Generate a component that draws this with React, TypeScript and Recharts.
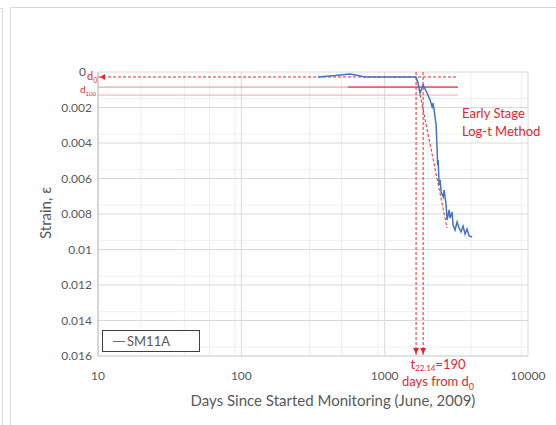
import React from 'react';
import {
  LineChart,
  Line,
  XAxis,
  YAxis,
  CartesianGrid,
  ReferenceLine,
} from 'recharts';

// SM11A readings (days since monitoring started, strain)
const days = [
  343, 451, 574, 652, 729, 1091, 1656, 1710, 1767, 1854, 1976, 2075, 2143, 2178,
  2213, 2286, 2323, 2340, 2360, 2398, 2437, 2477, 2559, 2600, 2682, 2725, 2814,
  2860, 2953, 3000, 3098, 3200, 3305, 3412, 3524, 3639, 3758, 3882, 4074,
];
const strain = [
  0.00028, 0.0002, 0.00011, 0.0002, 0.00028, 0.00028, 0.00028, 0.00062, 0.00118,
  0.00073, 0.00118, 0.00158, 0.00197, 0.00175, 0.00214, 0.00299, 0.0044, 0.00524,
  0.00496, 0.00637, 0.00608, 0.00676, 0.00704, 0.00665, 0.00749, 0.00834, 0.00777,
  0.00823, 0.00789, 0.00862, 0.0089, 0.00845, 0.00879, 0.00901, 0.00868, 0.00913,
  0.00885, 0.00924, 0.0093,
];

const xTicks = [10, 100, 1000, 10000];
const xMinor = [
  20, 30, 40, 50, 60, 70, 80, 90, 200, 300, 400, 500, 600, 700, 800, 900, 2000,
  3000, 4000, 5000, 6000, 7000, 8000, 9000,
];
const yTicks = [0, 0.002, 0.004, 0.006, 0.008, 0.01, 0.012, 0.014, 0.016];
const yMinor = [
  0.0005, 0.001, 0.0015, 0.0025, 0.003, 0.0035, 0.0045, 0.005, 0.0055, 0.0065,
  0.007, 0.0075, 0.0085, 0.009, 0.0095, 0.0105, 0.011, 0.0115, 0.0125, 0.013,
  0.0135, 0.0145, 0.015, 0.0155,
];

// annotation levels
const d0Level = 0.00028;
const d100Level = 0.00085;
const d100Lower = 0.0013;
const refLineEnd = 3250;
const d100DarkStart = 556;
const tStart = 1656;
const tEnd = 1854;
const tangentFrom = { x: 1683, y: 0.00045 };
const tangentTo = { x: 2723, y: 0.00879 };

const data = days.map((d, i) => ({ days: d, strain: strain[i] }));

const RED = '#e0282e';
const GRAY = '#595959';

function ArrowLeftLine(p: any) {
  const { x1, y1, x2, y2 } = p;
  const lx = Math.min(x1, x2) + 2;
  return (
    <g>
      <line x1={x1} y1={y1} x2={x2} y2={y2} stroke={RED} strokeWidth={1} strokeDasharray="3 2" />
      <polygon points={`${lx},${y1} ${lx + 5},${y1 - 3} ${lx + 5},${y1 + 3}`} fill={RED} />
    </g>
  );
}

function ArrowDownLine(p: any) {
  const { x1, y1, x2, y2 } = p;
  const by = Math.max(y1, y2) - 2;
  return (
    <g>
      <line x1={x1} y1={y1} x2={x2} y2={y2} stroke={RED} strokeWidth={1} strokeDasharray="3 2" />
      <polygon points={`${x1},${by} ${x1 - 3},${by - 6} ${x1 + 3},${by - 6}`} fill={RED} />
    </g>
  );
}

// the "0" label sits a little further left to leave room for d0
function YTick(p: any) {
  const { x, y, payload } = p;
  const v = payload.value;
  return (
    <text x={x - (v === 0 ? 6 : 0)} y={y} dy="0.355em" textAnchor="end" fill={GRAY} fontSize={12}>
      {String(v)}
    </text>
  );
}

function Sub({ children, size, drop }: { children: React.ReactNode; size: number; drop?: number }) {
  return (
    <span style={{ fontSize: size, position: 'relative', top: drop ?? size * 0.45, lineHeight: 0 }}>{children}</span>
  );
}

export default function App() {
  return (
    <div
      style={{
        position: 'absolute',
        left: 0,
        top: 0,
        width: 556,
        height: 425,
        background: '#fff',
        fontFamily: 'Lato, sans-serif',
        overflow: 'hidden',
      }}
    >
      {/* outer frames */}
      <div style={{ position: 'absolute', left: 2, top: 8, width: 0, height: 420, borderLeft: '1px solid #d9d9d9' }} />
      <div style={{ position: 'absolute', left: 0, top: 8, width: 3, height: 0, borderTop: '1px solid #d9d9d9' }} />
      <div style={{ position: 'absolute', left: 10, top: 7, width: 560, height: 420, borderLeft: '1px solid #d9d9d9', borderTop: '1px solid #d9d9d9' }} />

      <LineChart
        width={556}
        height={425}
        data={data}
        margin={{ top: 72, right: 28, left: 38, bottom: 39 }}
        style={{ position: 'absolute', left: 0, top: 0 }}
      >
        <CartesianGrid
          horizontalValues={yMinor}
          verticalValues={xMinor}
          stroke="#efefef"
          strokeWidth={1}
        />
        <CartesianGrid
          horizontalValues={yTicks}
          verticalValues={xTicks}
          stroke="#d9d9d9"
          strokeWidth={1}
        />
        <XAxis
          dataKey="days"
          type="number"
          scale="log"
          domain={[10, 10000]}
          ticks={xTicks}
          allowDataOverflow
          height={30}
          tickSize={0}
          tickMargin={15}
          axisLine={{ stroke: '#d9d9d9' }}
          tick={{ fill: GRAY, fontSize: 12 }}
        />
        <YAxis
          type="number"
          domain={[0, 0.016]}
          ticks={yTicks}
          reversed
          width={60}
          tickSize={0}
          tickMargin={6}
          axisLine={{ stroke: '#bfbfbf' }}
          tick={YTick}
        />
        <ReferenceLine
          segment={[{ x: 10, y: d100Lower }, { x: refLineEnd, y: d100Lower }]}
          stroke="#f3a6a8"
          strokeWidth={1}
        />
        <ReferenceLine
          segment={[{ x: 10, y: d100Level }, { x: refLineEnd, y: d100Level }]}
          stroke="#ef8a8d"
          strokeWidth={1}
        />
        <ReferenceLine
          segment={[{ x: d100DarkStart, y: d100Level }, { x: refLineEnd, y: d100Level }]}
          stroke={RED}
          strokeWidth={1}
        />
        <ReferenceLine
          segment={[{ x: 10, y: d0Level }, { x: refLineEnd, y: d0Level }]}
          shape={ArrowLeftLine}
        />
        <ReferenceLine
          segment={[{ x: tStart, y: 0 }, { x: tStart, y: 0.016 }]}
          shape={ArrowDownLine}
        />
        <ReferenceLine
          segment={[{ x: tEnd, y: 0 }, { x: tEnd, y: 0.016 }]}
          shape={ArrowDownLine}
        />
        <ReferenceLine
          segment={[tangentFrom, tangentTo]}
          stroke={RED}
          strokeWidth={1}
          strokeDasharray="3 2"
        />
        <Line
          type="linear"
          dataKey="strain"
          name="SM11A"
          stroke="#4472c4"
          strokeWidth={1.5}
          dot={false}
          isAnimationActive={false}
        />
      </LineChart>

      {/* legend */}
      <div
        style={{
          position: 'absolute',
          left: 102,
          top: 330,
          width: 96,
          height: 20,
          border: '1px solid #404040',
          background: '#fff',
          display: 'flex',
          alignItems: 'center',
          fontSize: 13,
          color: GRAY,
        }}
      >
        <span style={{ display: 'inline-block', width: 12, height: 0, borderTop: '1.5px solid #4472c4', marginLeft: 10, marginRight: 2 }} />
        SM11A
      </div>

      {/* annotation text */}
      <div style={{ position: 'absolute', left: 87, top: 70, color: RED, fontSize: 11, lineHeight: '12px' }}>
        d<Sub size={7}>0</Sub>
      </div>
      <div style={{ position: 'absolute', left: 80, top: 84, color: RED, fontSize: 10, lineHeight: '11px' }}>
        d<Sub size={6}>100</Sub>
      </div>
      <div style={{ position: 'absolute', left: 462, top: 104, color: RED, fontSize: 13, lineHeight: '18px' }}>
        Early Stage
        <br />
        Log-t Method
      </div>
      <div style={{ position: 'absolute', left: 402, top: 356, color: RED, fontSize: 13, lineHeight: '17px', textAlign: 'center' }}>
        t<Sub size={8} drop={2}>22.14</Sub>=190
        <br />
        days from d<Sub size={9}>0</Sub>
      </div>

      {/* axis titles */}
      <div style={{ position: 'absolute', left: 0, width: 666, top: 391, textAlign: 'center', color: GRAY, fontSize: 15 }}>
        Days Since Started Monitoring (June, 2009)
      </div>
      <div
        style={{
          position: 'absolute',
          left: 45,
          top: 213,
          transform: 'translate(-50%, -50%) rotate(-90deg)',
          whiteSpace: 'nowrap',
          color: GRAY,
          fontSize: 15,
        }}
      >
        Strain, ε
      </div>
    </div>
  );
}
